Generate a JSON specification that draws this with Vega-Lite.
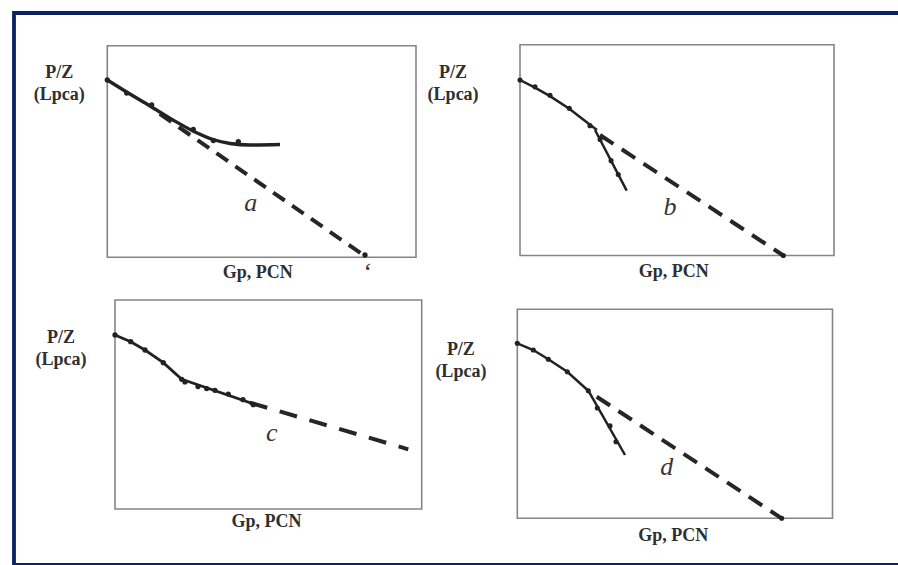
{
  "$schema": "https://vega.github.io/schema/vega-lite/v6.json",
  "width": 898,
  "height": 565,
  "autosize": {"type": "fit", "contains": "padding"},
  "padding": {"left": 14, "top": 13, "right": -4, "bottom": 0},
  "background": "white",
  "config": {"view": {"stroke": "#0b2161", "strokeWidth": 3.8}},
  "datasets": {
    "pts": [
      {"panel": "a", "kind": "frame", "gp": 0, "gp2": 100, "pz": 0, "pz2": 100},
      {"panel": "a", "kind": "solid", "seg": "s1", "gp": 0, "pz": 83.79},
      {"panel": "a", "kind": "solid", "seg": "s1", "gp": 5.73, "pz": 78.59},
      {"panel": "a", "kind": "solid", "seg": "s1", "gp": 13.83, "pz": 71.5},
      {"panel": "a", "kind": "solid", "seg": "s1", "gp": 21.28, "pz": 64.89},
      {"panel": "a", "kind": "solid", "seg": "s1", "gp": 27.76, "pz": 59.69},
      {"panel": "a", "kind": "solid", "seg": "s1", "gp": 34.24, "pz": 55.67},
      {"panel": "a", "kind": "solid", "seg": "s1", "gp": 39.75, "pz": 53.78},
      {"panel": "a", "kind": "solid", "seg": "s1", "gp": 46.23, "pz": 53.07},
      {"panel": "a", "kind": "solid", "seg": "s1", "gp": 55.94, "pz": 53.31},
      {"panel": "a", "kind": "dash", "gp": 17, "pz": 67.76},
      {"panel": "a", "kind": "dash", "gp": 84.03, "pz": 0},
      {"panel": "a", "kind": "dot", "gp": 0, "pz": 83.79},
      {"panel": "a", "kind": "dot", "gp": 6.28, "pz": 77.6},
      {"panel": "a", "kind": "dot", "gp": 14.38, "pz": 71.97},
      {"panel": "a", "kind": "dot", "gp": 27.86, "pz": 60.49},
      {"panel": "a", "kind": "dot", "gp": 34.34, "pz": 55.2},
      {"panel": "a", "kind": "dot", "gp": 42.44, "pz": 54.63},
      {"panel": "a", "kind": "dot", "gp": 83.48, "pz": 1.09},
      {"panel": "a", "kind": "axis", "text": "P/Z", "gp": -15.6, "pz": 87.0},
      {"panel": "a", "kind": "axis", "text": "(Lpca)", "gp": -15.6, "pz": 76.7},
      {"panel": "a", "kind": "axis", "text": "Gp, PCN", "gp": 48.7, "pz": -7.4},
      {"panel": "a", "kind": "letter", "text": "a", "gp": 46.5, "pz": 25.7},
      {"panel": "a", "kind": "letter", "text": "ʻ", "gp": 84.0, "pz": -7.0},

      {"panel": "b", "kind": "frame", "gp": 0, "gp2": 100, "pz": 0, "pz2": 100},
      {"panel": "b", "kind": "solid", "seg": "s1", "gp": 0, "pz": 83.25},
      {"panel": "b", "kind": "solid", "seg": "s1", "gp": 4.78, "pz": 79.6},
      {"panel": "b", "kind": "solid", "seg": "s1", "gp": 9.55, "pz": 75.6},
      {"panel": "b", "kind": "solid", "seg": "s1", "gp": 15.7, "pz": 69.6},
      {"panel": "b", "kind": "solid", "seg": "s1", "gp": 22.29, "pz": 62.0},
      {"panel": "b", "kind": "solid", "seg": "s1", "gp": 24.52, "pz": 59.5},
      {"panel": "b", "kind": "solid", "seg": "s2", "gp": 23.89, "pz": 59.54},
      {"panel": "b", "kind": "solid", "seg": "s2", "gp": 33.98, "pz": 30.74},
      {"panel": "b", "kind": "dash", "gp": 25.48, "pz": 57.16},
      {"panel": "b", "kind": "dash", "gp": 83.85, "pz": 0},
      {"panel": "b", "kind": "dot", "gp": 0, "pz": 83.25},
      {"panel": "b", "kind": "dot", "gp": 4.78, "pz": 80.0},
      {"panel": "b", "kind": "dot", "gp": 9.55, "pz": 76.0},
      {"panel": "b", "kind": "dot", "gp": 15.7, "pz": 69.8},
      {"panel": "b", "kind": "dot", "gp": 22.29, "pz": 61.6},
      {"panel": "b", "kind": "dot", "gp": 25.5, "pz": 55.0},
      {"panel": "b", "kind": "dot", "gp": 29.0, "pz": 45.0},
      {"panel": "b", "kind": "dot", "gp": 31.3, "pz": 38.4},
      {"panel": "b", "kind": "dot", "gp": 83.85, "pz": 0},
      {"panel": "b", "kind": "axis", "text": "P/Z", "gp": -21.3, "pz": 86.6},
      {"panel": "b", "kind": "axis", "text": "(Lpca)", "gp": -21.3, "pz": 76.1},
      {"panel": "b", "kind": "axis", "text": "Gp, PCN", "gp": 49.0, "pz": -7.8},
      {"panel": "b", "kind": "letter", "text": "b", "gp": 47.8, "pz": 23.2},

      {"panel": "c", "kind": "frame", "gp": 0, "gp2": 100, "pz": 0, "pz2": 100},
      {"panel": "c", "kind": "solid", "seg": "s1", "gp": 0, "pz": 83.25},
      {"panel": "c", "kind": "solid", "seg": "s1", "gp": 5.12, "pz": 80.05},
      {"panel": "c", "kind": "solid", "seg": "s1", "gp": 9.78, "pz": 76.08},
      {"panel": "c", "kind": "solid", "seg": "s1", "gp": 15.75, "pz": 70.0},
      {"panel": "c", "kind": "solid", "seg": "s1", "gp": 21.75, "pz": 62.06},
      {"panel": "c", "kind": "solid", "seg": "s2", "gp": 21.75, "pz": 62.06},
      {"panel": "c", "kind": "solid", "seg": "s2", "gp": 46.2, "pz": 49.76},
      {"panel": "c", "kind": "dash", "gp": 44.0, "pz": 50.9},
      {"panel": "c", "kind": "dash", "gp": 95.63, "pz": 28.56},
      {"panel": "c", "kind": "dot", "gp": 0, "pz": 83.25},
      {"panel": "c", "kind": "dot", "gp": 5.12, "pz": 80.05},
      {"panel": "c", "kind": "dot", "gp": 9.78, "pz": 76.08},
      {"panel": "c", "kind": "dot", "gp": 15.75, "pz": 70.0},
      {"panel": "c", "kind": "dot", "gp": 21.75, "pz": 62.06},
      {"panel": "c", "kind": "dot", "gp": 22.82, "pz": 60.8},
      {"panel": "c", "kind": "dot", "gp": 27.06, "pz": 58.6},
      {"panel": "c", "kind": "dot", "gp": 29.9, "pz": 57.6},
      {"panel": "c", "kind": "dot", "gp": 32.6, "pz": 56.8},
      {"panel": "c", "kind": "dot", "gp": 36.94, "pz": 55.0},
      {"panel": "c", "kind": "dot", "gp": 41.73, "pz": 52.3},
      {"panel": "c", "kind": "dot", "gp": 45.09, "pz": 49.9},
      {"panel": "c", "kind": "axis", "text": "P/Z", "gp": -17.6, "pz": 81.8},
      {"panel": "c", "kind": "axis", "text": "(Lpca)", "gp": -17.6, "pz": 71.3},
      {"panel": "c", "kind": "axis", "text": "Gp, PCN", "gp": 49.4, "pz": -6.2},
      {"panel": "c", "kind": "letter", "text": "c", "gp": 51.1, "pz": 36.2},

      {"panel": "d", "kind": "frame", "gp": 0, "gp2": 100, "pz": 0, "pz2": 100},
      {"panel": "d", "kind": "solid", "seg": "s1", "gp": 0, "pz": 83.73},
      {"panel": "d", "kind": "solid", "seg": "s1", "gp": 5.08, "pz": 80.53},
      {"panel": "d", "kind": "solid", "seg": "s1", "gp": 9.84, "pz": 76.08},
      {"panel": "d", "kind": "solid", "seg": "s1", "gp": 15.86, "pz": 70.14},
      {"panel": "d", "kind": "solid", "seg": "s1", "gp": 22.53, "pz": 61.05},
      {"panel": "d", "kind": "solid", "seg": "s2", "gp": 22.53, "pz": 61.05},
      {"panel": "d", "kind": "solid", "seg": "s2", "gp": 34.17, "pz": 30.29},
      {"panel": "d", "kind": "dash", "gp": 25.19, "pz": 58.18},
      {"panel": "d", "kind": "dash", "gp": 83.88, "pz": 0},
      {"panel": "d", "kind": "dot", "gp": 0, "pz": 83.73},
      {"panel": "d", "kind": "dot", "gp": 5.08, "pz": 80.53},
      {"panel": "d", "kind": "dot", "gp": 9.84, "pz": 76.08},
      {"panel": "d", "kind": "dot", "gp": 15.86, "pz": 70.14},
      {"panel": "d", "kind": "dot", "gp": 22.53, "pz": 61.05},
      {"panel": "d", "kind": "dot", "gp": 25.38, "pz": 52.8},
      {"panel": "d", "kind": "dot", "gp": 29.41, "pz": 44.2},
      {"panel": "d", "kind": "dot", "gp": 31.31, "pz": 36.6},
      {"panel": "d", "kind": "dot", "gp": 83.88, "pz": 0},
      {"panel": "d", "kind": "axis", "text": "P/Z", "gp": -17.9, "pz": 80.5},
      {"panel": "d", "kind": "axis", "text": "(Lpca)", "gp": -17.9, "pz": 70.0},
      {"panel": "d", "kind": "axis", "text": "Gp, PCN", "gp": 49.5, "pz": -8.5},
      {"panel": "d", "kind": "letter", "text": "d", "gp": 47.4, "pz": 24.7}
    ]
  },
  "data": {"name": "pts"},
  "resolve": {"scale": {"x": "independent", "y": "independent"}},
  "layer": [
    {
      "transform": [{"filter": "datum.panel === 'a'"}],
      "encoding": {
        "x": {"field": "gp", "type": "quantitative", "axis": null, "scale": {"domain": [-30.224, 257.44], "nice": false, "zero": false}},
        "y": {"field": "pz", "type": "quantitative", "axis": null, "scale": {"domain": [-145.41, 115.454], "nice": false, "zero": false}}
      },
      "layer": [
        {"transform": [{"filter": "datum.kind === 'frame'"}], "mark": {"type": "rect", "fill": "transparent", "stroke": "#858585", "strokeWidth": 1.6}, "encoding": {"x2": {"field": "gp2"}, "y2": {"field": "pz2"}}},
        {"transform": [{"filter": "datum.kind === 'dash'"}], "mark": {"type": "line", "strokeDash": [14, 9], "strokeWidth": 4, "color": "#262626"}, "encoding": {}},
        {"transform": [{"filter": "datum.kind === 'solid'"}], "mark": {"type": "line", "strokeWidth": 3.4, "color": "#222222", "interpolate": "monotone"}, "encoding": {"detail": {"field": "seg"}}},
        {"transform": [{"filter": "datum.kind === 'dot'"}], "mark": {"type": "circle", "size": 28, "color": "#222222", "opacity": 1}},
        {"transform": [{"filter": "datum.kind === 'axis'"}], "mark": {"type": "text", "font": "Liberation Serif", "fontWeight": "bold", "fontSize": 18, "color": "#2f2f2f", "baseline": "middle"}, "encoding": {"text": {"field": "text"}}},
        {"transform": [{"filter": "datum.kind === 'letter'"}], "mark": {"type": "text", "font": "Liberation Serif", "fontStyle": "italic", "fontSize": 26, "color": "#383838", "baseline": "middle"}, "encoding": {"text": {"field": "text"}}}
      ]
    },
    {
      "transform": [{"filter": "datum.panel === 'b'"}],
      "encoding": {
        "x": {"field": "gp", "type": "quantitative", "axis": null, "scale": {"domain": [-161.146, 121.656], "nice": false, "zero": false}},
        "y": {"field": "pz", "type": "quantitative", "axis": null, "scale": {"domain": [-146.822, 115.038], "nice": false, "zero": false}}
      },
      "layer": [
        {"transform": [{"filter": "datum.kind === 'frame'"}], "mark": {"type": "rect", "fill": "transparent", "stroke": "#858585", "strokeWidth": 1.6}, "encoding": {"x2": {"field": "gp2"}, "y2": {"field": "pz2"}}},
        {"transform": [{"filter": "datum.kind === 'dash'"}], "mark": {"type": "line", "strokeDash": [16, 10], "strokeWidth": 4, "color": "#262626"}, "encoding": {}},
        {"transform": [{"filter": "datum.kind === 'solid'"}], "mark": {"type": "line", "strokeWidth": 2.5, "color": "#222222"}, "encoding": {"detail": {"field": "seg"}}},
        {"transform": [{"filter": "datum.kind === 'dot'"}], "mark": {"type": "circle", "size": 26, "color": "#222222", "opacity": 1}},
        {"transform": [{"filter": "datum.kind === 'axis'"}], "mark": {"type": "text", "font": "Liberation Serif", "fontWeight": "bold", "fontSize": 18, "color": "#2f2f2f", "baseline": "middle"}, "encoding": {"text": {"field": "text"}}},
        {"transform": [{"filter": "datum.kind === 'letter'"}], "mark": {"type": "text", "font": "Liberation Serif", "fontStyle": "italic", "fontSize": 26, "color": "#383838", "baseline": "middle"}, "encoding": {"text": {"field": "text"}}}
      ]
    },
    {
      "transform": [{"filter": "datum.panel === 'c'"}],
      "encoding": {
        "x": {"field": "gp", "type": "quantitative", "axis": null, "scale": {"domain": [-32.931, 256.6], "nice": false, "zero": false}},
        "y": {"field": "pz", "type": "quantitative", "axis": null, "scale": {"domain": [-26.794, 237.321], "nice": false, "zero": false}}
      },
      "layer": [
        {"transform": [{"filter": "datum.kind === 'frame'"}], "mark": {"type": "rect", "fill": "transparent", "stroke": "#858585", "strokeWidth": 1.6}, "encoding": {"x2": {"field": "gp2"}, "y2": {"field": "pz2"}}},
        {"transform": [{"filter": "datum.kind === 'dash'"}], "mark": {"type": "line", "strokeDash": [18, 13], "strokeWidth": 4, "color": "#262626"}, "encoding": {}},
        {"transform": [{"filter": "datum.kind === 'solid'"}], "mark": {"type": "line", "strokeWidth": 2.8, "color": "#222222"}, "encoding": {"detail": {"field": "seg"}}},
        {"transform": [{"filter": "datum.kind === 'dot'"}], "mark": {"type": "circle", "size": 28, "color": "#222222", "opacity": 1}},
        {"transform": [{"filter": "datum.kind === 'axis'"}], "mark": {"type": "text", "font": "Liberation Serif", "fontWeight": "bold", "fontSize": 18, "color": "#2f2f2f", "baseline": "middle"}, "encoding": {"text": {"field": "text"}}},
        {"transform": [{"filter": "datum.kind === 'letter'"}], "mark": {"type": "text", "font": "Liberation Serif", "fontStyle": "italic", "fontSize": 26, "color": "#383838", "baseline": "middle"}, "encoding": {"text": {"field": "text"}}}
      ]
    },
    {
      "transform": [{"filter": "datum.panel === 'd'"}],
      "encoding": {
        "x": {"field": "gp", "type": "quantitative", "axis": null, "scale": {"domain": [-159.676, 122.05], "nice": false, "zero": false}},
        "y": {"field": "pz", "type": "quantitative", "axis": null, "scale": {"domain": [-22.344, 241.771], "nice": false, "zero": false}}
      },
      "layer": [
        {"transform": [{"filter": "datum.kind === 'frame'"}], "mark": {"type": "rect", "fill": "transparent", "stroke": "#858585", "strokeWidth": 1.6}, "encoding": {"x2": {"field": "gp2"}, "y2": {"field": "pz2"}}},
        {"transform": [{"filter": "datum.kind === 'dash'"}], "mark": {"type": "line", "strokeDash": [16, 10], "strokeWidth": 4, "color": "#262626"}, "encoding": {}},
        {"transform": [{"filter": "datum.kind === 'solid'"}], "mark": {"type": "line", "strokeWidth": 2.5, "color": "#222222"}, "encoding": {"detail": {"field": "seg"}}},
        {"transform": [{"filter": "datum.kind === 'dot'"}], "mark": {"type": "circle", "size": 26, "color": "#222222", "opacity": 1}},
        {"transform": [{"filter": "datum.kind === 'axis'"}], "mark": {"type": "text", "font": "Liberation Serif", "fontWeight": "bold", "fontSize": 18, "color": "#2f2f2f", "baseline": "middle"}, "encoding": {"text": {"field": "text"}}},
        {"transform": [{"filter": "datum.kind === 'letter'"}], "mark": {"type": "text", "font": "Liberation Serif", "fontStyle": "italic", "fontSize": 26, "color": "#383838", "baseline": "middle"}, "encoding": {"text": {"field": "text"}}}
      ]
    }
  ]
}
